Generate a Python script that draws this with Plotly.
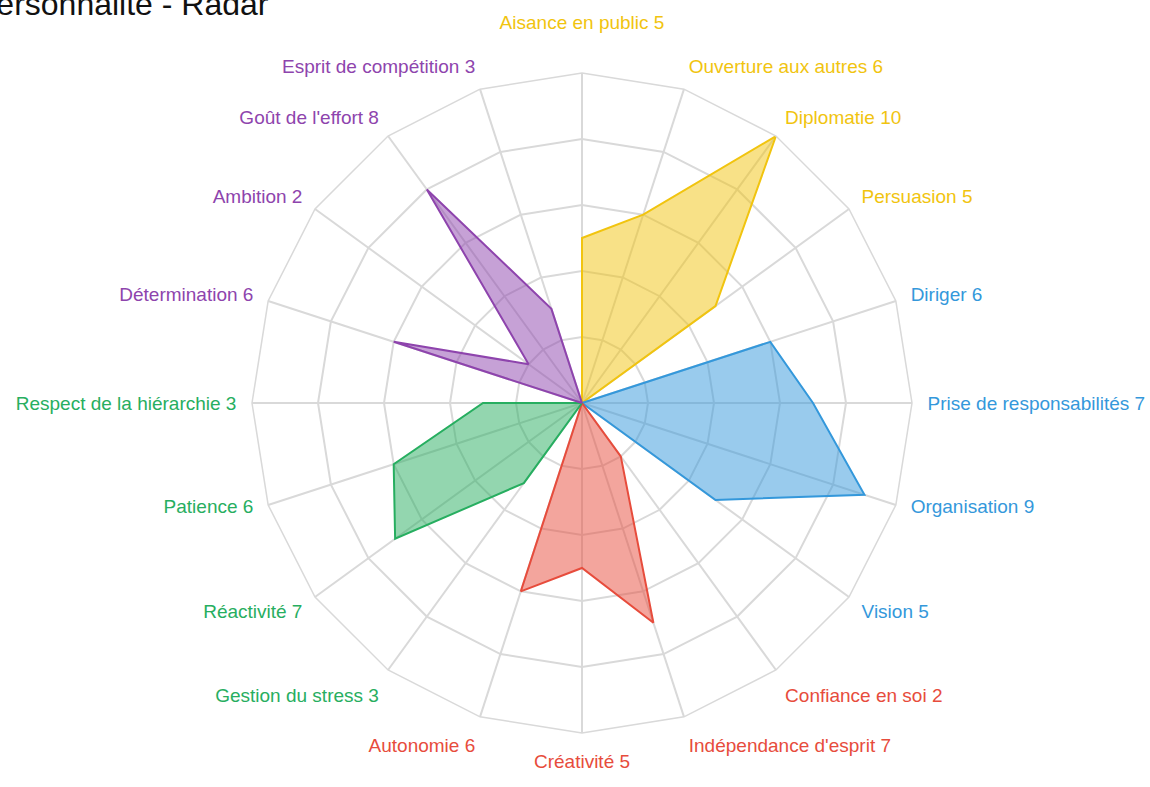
import plotly.graph_objects as go

categories = [
    "Aisance en public", "Ouverture aux autres", "Diplomatie", "Persuasion",
    "Diriger", "Prise de responsabilités", "Organisation", "Vision",
    "Confiance en soi", "Indépendance d'esprit", "Créativité", "Autonomie",
    "Gestion du stress", "Réactivité", "Patience", "Respect de la hiérarchie",
    "Détermination", "Ambition", "Goût de l'effort", "Esprit de compétition",
]
values = [5, 6, 10, 5, 6, 7, 9, 5, 2, 7, 5, 6, 3, 7, 6, 3, 6, 2, 8, 3]
group_names = ["Relationnel", "Leadership", "Autonomie", "Stabilité", "Motivation"]
group_colors = ["#f1c40f", "#3498db", "#e74c3c", "#27ae60", "#8e44ad"]
group_fills = ["rgba(241,196,15,0.5)", "rgba(52,152,219,0.5)", "rgba(231,76,60,0.5)",
               "rgba(39,174,96,0.5)", "rgba(142,68,173,0.5)"]
group_size = 4
# labels that get an extra blank line so their vertical placement matches
lifted_labels = ["Aisance en public", "Organisation", "Vision", "Réactivité", "Patience"]

fig = go.Figure()
for g in range(len(group_names)):
    idx = list(range(g * group_size, (g + 1) * group_size))
    th = [categories[idx[0]]] + [categories[i] for i in idx] + [categories[idx[-1]]]
    rr = [0] + [values[i] for i in idx] + [0]
    fig.add_trace(go.Scatterpolar(
        r=rr, theta=th, mode="lines", fill="toself",
        fillcolor=group_fills[g],
        line=dict(color=group_colors[g], width=2),
        name=group_names[g], showlegend=False,
    ))

ticktext = []
for i, c in enumerate(categories):
    col = group_colors[i // group_size]
    t = f"<span style='color:{col}'>{c} {values[i]}</span>"
    if c in lifted_labels:
        t += "<br> "
    ticktext.append(t)

grid_col = "#d9d9d9"
fig.update_layout(
    width=1150, height=787,
    paper_bgcolor="white", plot_bgcolor="white",
    margin=dict(l=0, r=0, t=73, b=54),
    font=dict(family="Liberation Sans, Arial, sans-serif", size=19, color="#333"),
    polar=dict(
        domain=dict(x=[(582 - 330) / 1150, (582 + 330) / 1150], y=[0, 1]),
        bgcolor="white",
        gridshape="linear",
        radialaxis=dict(range=[0, 10], tickvals=[2, 4, 6, 8, 10], showticklabels=False,
                        showline=False, ticks="", gridcolor=grid_col, gridwidth=1.5),
        angularaxis=dict(type="category", categoryorder="array", categoryarray=categories,
                         rotation=90, direction="clockwise", tickmode="array",
                         tickvals=categories, ticktext=ticktext,
                         showline=True, linecolor=grid_col, linewidth=1.5,
                         gridcolor=grid_col, gridwidth=1.5,
                         ticks="outside", ticklen=11, tickcolor="rgba(0,0,0,0)",
                         tickfont=dict(size=19)),
    ),
    annotations=[dict(text="Personnalité - Radar", x=-27 / 1150, y=1.074,
                      xref="paper", yref="paper", xanchor="left", yanchor="bottom",
                      showarrow=False, font=dict(size=32, color="#111"))],
)

fig.write_html("out.html", config={"displayModeBar": False},
               post_script="document.body.style.margin='0';document.body.style.overflow='hidden';")
